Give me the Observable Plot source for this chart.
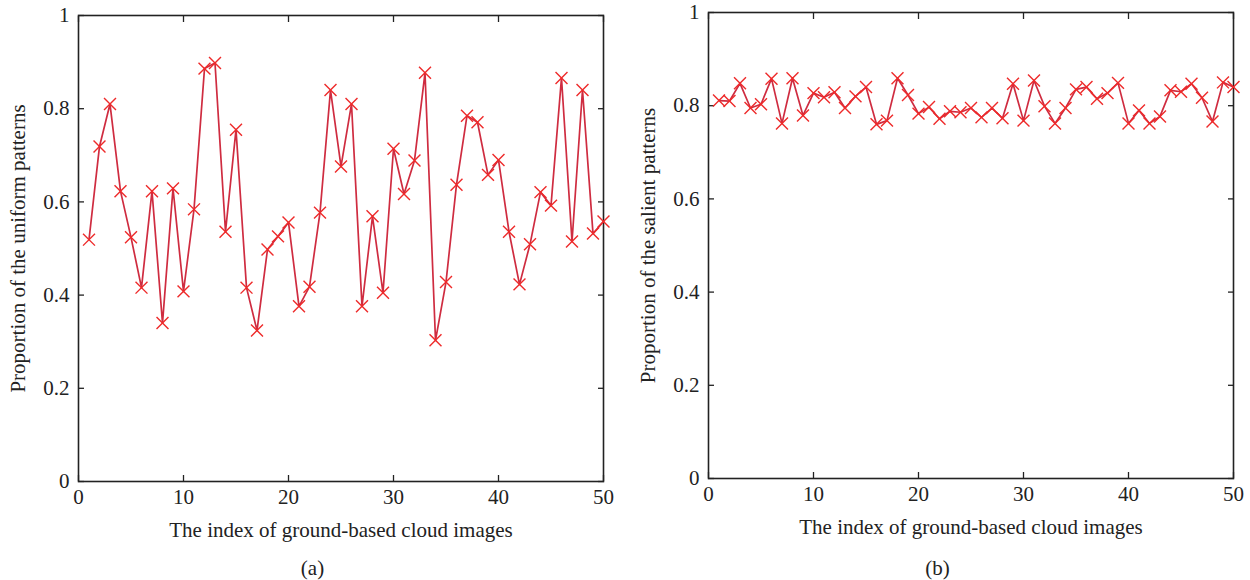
<!DOCTYPE html>
<html>
<head>
<meta charset="utf-8">
<script src="https://cdn.jsdelivr.net/npm/d3@7"></script>
<script src="https://cdn.jsdelivr.net/npm/@observablehq/plot@0.6"></script>
<style>
  body { margin: 0; background: #fff; }
  #row { display: flex; width: 1250px; }
  .panel { width: 625px; }
  .cap { text-align: center; font-family: "Liberation Serif", serif; font-size: 21px; color: #222; line-height: 24px; padding-top: 11px; }
</style>
</head>
<body>
<div id="row">
  <div class="panel" id="pa"></div>
  <div class="panel" id="pb"></div>
</div>
<script>
const imageIndex = [1,2,3,4,5,6,7,8,9,10,11,12,13,14,15,16,17,18,19,20,21,22,23,24,25,26,27,28,29,30,31,32,33,34,35,36,37,38,39,40,41,42,43,44,45,46,47,48,49,50];
const uniformProportion = [0.519,0.719,0.81,0.623,0.524,0.416,0.623,0.34,0.629,0.408,0.584,0.886,0.898,0.536,0.755,0.416,0.324,0.498,0.526,0.556,0.376,0.418,0.577,0.84,0.676,0.81,0.376,0.569,0.405,0.714,0.617,0.689,0.877,0.303,0.428,0.637,0.785,0.771,0.658,0.69,0.536,0.423,0.509,0.621,0.592,0.866,0.515,0.84,0.532,0.558];
const salientProportion = [0.811,0.81,0.848,0.795,0.803,0.858,0.762,0.859,0.779,0.827,0.818,0.829,0.795,0.82,0.84,0.76,0.768,0.859,0.823,0.783,0.797,0.772,0.788,0.786,0.795,0.775,0.795,0.773,0.847,0.768,0.854,0.799,0.762,0.795,0.835,0.84,0.815,0.827,0.849,0.762,0.79,0.762,0.777,0.833,0.83,0.847,0.817,0.766,0.85,0.84];
const xTicks = [0,10,20,30,40,50];
const yTicks = [0,0.2,0.4,0.6,0.8,1];
const xTitle = "The index of ground-based cloud images";
const yTitleA = "Proportion of the uniform patterns";
const yTitleB = "Proportion of the salient patterns";
const captions = ["(a)", "(b)"];

const FONT = "Liberation Serif, serif";
const FS = 21;
const fmtY = d => String(+d.toFixed(1));

function panel(values, yTitle, m) {
  const data = imageIndex.map((i, k) => ({i, v: values[k]}));
  return Plot.plot({
    width: 625, height: 545,
    marginLeft: m.left, marginRight: m.right, marginTop: m.top, marginBottom: m.bottom,
    x: {domain: [0, 50]},
    y: {domain: [0, 1]},
    style: {fontFamily: FONT, fontSize: FS + "px", color: "#222", background: "#fff", overflow: "visible"},
    marks: [
      Plot.axisX({anchor: "bottom", ticks: xTicks, tickSize: -6, tickPadding: 14, fontSize: FS, tickFormat: d => String(d), label: xTitle, labelAnchor: "center", labelArrow: "none", labelOffset: m.xLabelOffset, stroke: "#222", strokeWidth: 1.3}),
      Plot.axisX({anchor: "top", ticks: xTicks, tickSize: -6, tickFormat: () => "", label: null, stroke: "#222", strokeWidth: 1.3}),
      Plot.axisY({anchor: "left", ticks: yTicks, tickSize: -6, tickPadding: 15, fontSize: FS, tickFormat: fmtY, label: yTitle, labelAnchor: "center", labelArrow: "none", labelOffset: m.labelOffset, stroke: "#222", strokeWidth: 1.3}),
      Plot.axisY({anchor: "right", ticks: yTicks, tickSize: -6, tickFormat: () => "", label: null, stroke: "#222", strokeWidth: 1.3}),
      Plot.frame({stroke: "#222", strokeWidth: 1.6}),
      Plot.line(data, {x: "i", y: "v", stroke: "#cf2c40", strokeWidth: 1.7}),
      Plot.dot(data, {x: "i", y: "v", symbol: "times", r: 5.5, stroke: "#ee2a2a", strokeWidth: 1.4})
    ]
  });
}

function mount(id, chart, caption) {
  const el = document.getElementById(id);
  el.appendChild(chart);
  const c = document.createElement("div");
  c.className = "cap";
  c.textContent = caption;
  el.appendChild(c);
}

mount("pa", panel(uniformProportion, yTitleA, {left: 78, right: 22, top: 15, bottom: 64, labelOffset: 68, xLabelOffset: 55}), captions[0]);
mount("pb", panel(salientProportion, yTitleB, {left: 83, right: 17, top: 12, bottom: 67, labelOffset: 68, xLabelOffset: 55}), captions[1]);
</script>
</body>
</html>
